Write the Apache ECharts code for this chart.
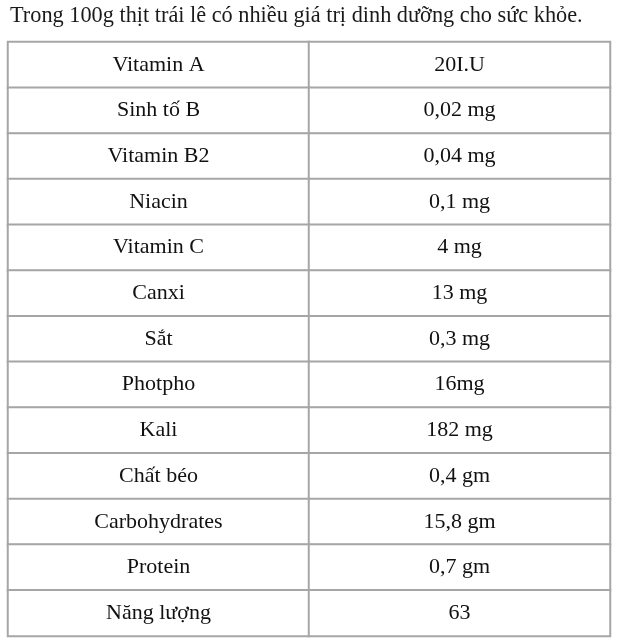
<!DOCTYPE html>
<html>
<head>
<meta charset="utf-8">
<script src="https://cdn.jsdelivr.net/npm/echarts@6/dist/echarts.min.js"></script>
<style>
  html, body { margin: 0; padding: 0; background: #fff; }
  #main { width: 617px; height: 640px; }
</style>
</head>
<body>
<div id="main"></div>
<script>
const tieuDe = 'Trong 100g thịt trái lê có nhiều giá trị dinh dưỡng cho sức khỏe.';
const chatDinhDuong = ['Vitamin A', 'Sinh tố B', 'Vitamin B2', 'Niacin', 'Vitamin C', 'Canxi', 'Sắt',
    'Photpho', 'Kali', 'Chất béo', 'Carbohydrates', 'Protein', 'Năng lượng'];
const hamLuong = ['20I.U', '0,02 mg', '0,04 mg', '0,1 mg', '4 mg', '13 mg', '0,3 mg',
    '16mg', '182 mg', '0,4 gm', '15,8 gm', '0,7 gm', '63'];
const cot = ['Chất', 'Hàm lượng'];

document.addEventListener('DOMContentLoaded', function () {
    const chart = echarts.init(document.getElementById('main'));

    // moi o cua bang la mot diem heatmap
    const cells = [];
    chatDinhDuong.forEach(function (ten, i) {
        cells.push({ value: [0, i, 0], text: ten });
        cells.push({ value: [1, i, 0], text: hamLuong[i] });
    });

    const option = {
        animation: false,
        title: {
            text: tieuDe,
            left: 5,
            top: 0,
            textStyle: {
                fontFamily: 'Liberation Serif',
                fontWeight: 'normal',
                fontSize: 22.3,
                color: '#1a1a1a'
            }
        },
        grid: { left: 8, right: 7, top: 42, bottom: 4 },
        xAxis: {
            type: 'category',
            data: cot,
            show: false
        },
        yAxis: {
            type: 'category',
            data: chatDinhDuong,
            inverse: true,
            show: false
        },
        series: [{
            type: 'heatmap',
            data: cells,
            itemStyle: {
                color: '#ffffff',
                borderColor: '#a6a6a6',
                borderWidth: 2
            },
            label: {
                show: true,
                formatter: function (p) { return p.data.text; },
                fontFamily: 'Liberation Serif',
                fontSize: 22,
                color: '#111111'
            },
            emphasis: { disabled: true }
        }]
    };
    chart.setOption(option);
});
</script>
</body>
</html>
